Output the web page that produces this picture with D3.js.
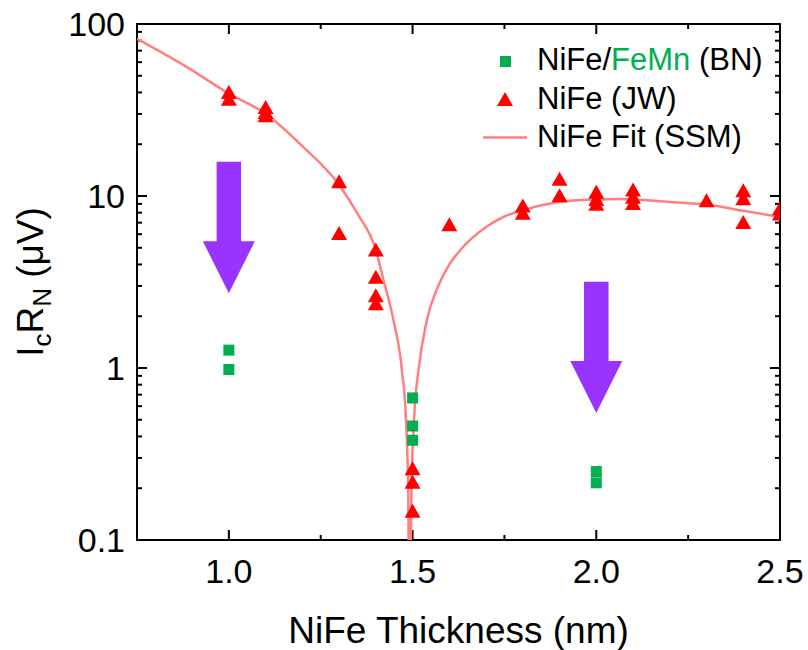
<!DOCTYPE html>
<html>
<head>
<meta charset="utf-8">
<script src="https://cdn.jsdelivr.net/npm/d3@7"></script>
<style>
  body { margin: 0; background: #fff; }
  text { font-family: Arial, "Liberation Sans", sans-serif; }
</style>
</head>
<body>
<div id="chart-area"></div>
<script>
// NiFe/FeMn (BN) squares
var bnX = [1.0, 1.0, 1.5, 1.5, 1.5, 2.0, 2.0];
var bnY = [1.27, 0.98, 0.67, 0.46, 0.38, 0.25, 0.215];

// NiFe (JW) triangles
var jwX = [1.0, 1.0, 1.1, 1.1, 1.1, 1.3, 1.3, 1.4, 1.4, 1.4, 1.4, 1.5, 1.5, 1.5, 1.6,
           1.8, 1.8, 1.9, 1.9, 2.0, 2.0, 2.0, 2.1, 2.1, 2.1, 2.3, 2.4, 2.4, 2.4, 2.5, 2.5];
var jwY = [40.2, 36.8, 32.9, 30.8, 29.5, 12.2, 6.1, 4.89, 3.39, 2.65, 2.38, 0.261, 0.218, 0.148, 6.86,
           8.8, 8.0, 12.6, 10.1, 10.6, 9.6, 9.0, 10.9, 9.9, 9.1, 9.45, 10.8, 9.7, 7.07, 8.5, 7.9];

// NiFe Fit (SSM)
var fitX = [0.75, 0.875, 1.0, 1.1, 1.2, 1.3, 1.35, 1.4, 1.421, 1.448, 1.471, 1.482, 1.488, 1.4915,
            1.4925, 1.497, 1.505, 1.516, 1.539, 1.57, 1.6, 1.63, 1.7, 1.75, 1.8, 1.9, 2.0, 2.06, 2.1, 2.2, 2.3, 2.4, 2.5];
var fitY = [82, 58, 39.4, 30.1, 19.5, 11.6, 7.9, 4.85, 3.24, 1.9, 0.97, 0.5, 0.2, 0.03,
            0.03, 0.2, 0.55, 0.97, 1.9, 3.0, 4.0, 4.85, 6.6, 7.6, 8.27, 9.23, 9.55, 9.62, 9.55, 9.23, 8.92, 8.2, 7.56];

// arrows: thickness, top of shaft, tip
var arrowX = [1.0, 2.0];
var arrowTop = [15.8, 3.17];
var arrowTip = [2.72, 0.547];

var xTicks = [1.0, 1.5, 2.0, 2.5];
var yTicks = [0.1, 1, 10, 100];
var yTickLabels = ['0.1', '1', '10', '100'];

var svgWidth = 808, svgHeight = 650;
var margin = {left:137, right:28, top:24, bottom:110};
var width = svgWidth - margin.left - margin.right;
var height = svgHeight - margin.top - margin.bottom;

var svg = d3.select('#chart-area')
            .append('svg')
            .attr('width', svgWidth)
            .attr('height', svgHeight);

var g = svg.append('g')
           .attr('transform', 'translate(' + margin.left + ',' + margin.top + ')');

var xScale = d3.scaleLinear().domain([0.75, 2.5]).range([0, width]);
var yScale = d3.scaleLog().domain([0.1, 100]).range([height, 0]);

g.append('clipPath').attr('id', 'clip')
 .append('rect').attr('width', width).attr('height', height);

// minor ticks
var xMinor = d3.range(0.75, 2.5001, 0.25).filter(function(d){ return Math.abs(d*2 - Math.round(d*2)) > 0.01; });
var yMinor = [];
[0.1, 1, 10].forEach(function(b){ for (var k = 2; k <= 9; k++) yMinor.push(b*k); });

var tickSize = 10, minorSize = 5;

function drawTicks(vals, len) {
  vals.forEach(function(v){
    g.append('line').attr('x1', xScale(v)).attr('x2', xScale(v))
      .attr('y1', height).attr('y2', height - len).attr('stroke', '#000').attr('stroke-width', 2);
    g.append('line').attr('x1', xScale(v)).attr('x2', xScale(v))
      .attr('y1', 0).attr('y2', len).attr('stroke', '#000').attr('stroke-width', 2);
  });
}
drawTicks(xTicks, tickSize);
drawTicks(xMinor, minorSize);

function drawYTicks(vals, len) {
  vals.forEach(function(v){
    g.append('line').attr('y1', yScale(v)).attr('y2', yScale(v))
      .attr('x1', 0).attr('x2', len).attr('stroke', '#000').attr('stroke-width', 2);
    g.append('line').attr('y1', yScale(v)).attr('y2', yScale(v))
      .attr('x1', width).attr('x2', width - len).attr('stroke', '#000').attr('stroke-width', 2);
  });
}
drawYTicks(yTicks, tickSize);
drawYTicks(yMinor, minorSize);

// frame
g.append('rect').attr('width', width).attr('height', height)
 .attr('fill', 'none').attr('stroke', '#000').attr('stroke-width', 2);

// tick labels
g.selectAll('.xl').data(xTicks).enter().append('text')
 .attr('x', function(d){ return xScale(d); })
 .attr('y', height + 43)
 .attr('text-anchor', 'middle')
 .attr('font-size', 34)
 .text(function(d){ return d.toFixed(1); });

g.selectAll('.yl').data(yTicks).enter().append('text')
 .attr('x', -12)
 .attr('y', function(d){ return yScale(d); })
 .attr('dy', '0.36em')
 .attr('text-anchor', 'end')
 .attr('font-size', 34)
 .text(function(d, i){ return yTickLabels[i]; });

// axis titles
g.append('text')
 .attr('x', width/2)
 .attr('y', svgHeight - margin.top - 7)
 .attr('text-anchor', 'middle')
 .attr('font-size', 37)
 .text('NiFe Thickness (nm)');

var yt = svg.append('text')
 .attr('transform', 'translate(43,' + (margin.top + height/2) + ') rotate(-90)')
 .attr('text-anchor', 'middle')
 .attr('font-size', 37);
yt.append('tspan').text('I');
yt.append('tspan').attr('font-size', 26).attr('dy', 8).text('c');
yt.append('tspan').attr('dy', -8).text('R');
yt.append('tspan').attr('font-size', 26).attr('dy', 8).text('N');
yt.append('tspan').attr('dy', -8).text(' (\u03bcV)');

// fit curve
var fitData = fitX.map(function(x, i){ return [x, fitY[i]]; });
var line = d3.line()
  .x(function(d){ return xScale(d[0]); })
  .y(function(d){ return yScale(d[1]); })
  .curve(d3.curveMonotoneX);

g.append('path')
 .datum(fitData)
 .attr('clip-path', 'url(#clip)')
 .attr('d', line)
 .attr('fill', 'none')
 .attr('stroke', '#ff7f7f')
 .attr('stroke-width', 2.5);

// arrows
var shaftW = 24.5, headW = 52, headH = 52;
arrowX.forEach(function(x, i){
  var cx = xScale(x), y0 = yScale(arrowTop[i]), y1 = yScale(arrowTip[i]), yb = y1 - headH;
  var pts = [[cx - shaftW/2, y0], [cx + shaftW/2, y0], [cx + shaftW/2, yb], [cx + headW/2, yb],
             [cx, y1], [cx - headW/2, yb], [cx - shaftW/2, yb]];
  g.append('path').attr('d', 'M' + pts.join('L') + 'Z').attr('fill', '#9933ff');
});

// triangles
var triW = 16, triH = 14;
function triPath(cx, cy) {
  return 'M' + (cx - triW/2) + ',' + (cy + triH/2) + 'L' + cx + ',' + (cy - triH/2) +
         'L' + (cx + triW/2) + ',' + (cy + triH/2) + 'Z';
}
g.selectAll('.tri').data(jwX).enter().append('path')
 .attr('clip-path', 'url(#clip)')
 .attr('d', function(d, i){ return triPath(xScale(d), yScale(jwY[i])); })
 .attr('fill', '#ff0000');

// squares
var sq = 11;
g.selectAll('.sq').data(bnX).enter().append('rect')
 .attr('x', function(d){ return xScale(d) - sq/2; })
 .attr('y', function(d, i){ return yScale(bnY[i]) - sq/2; })
 .attr('width', sq).attr('height', sq)
 .attr('fill', '#00b050');

// legend
var lg = svg.append('g');
lg.append('rect').attr('x', 500).attr('y', 56).attr('width', sq).attr('height', sq).attr('fill', '#00b050');
var t1 = lg.append('text').attr('x', 537).attr('y', 70).attr('font-size', 31);
t1.append('tspan').text('NiFe/');
t1.append('tspan').attr('fill', '#00b050').text('FeMn');
t1.append('tspan').text(' (BN)');

lg.append('path').attr('d', triPath(505, 99)).attr('fill', '#ff0000');
lg.append('text').attr('x', 537).attr('y', 108.5).attr('font-size', 31).text('NiFe (JW)');

lg.append('line').attr('x1', 483).attr('x2', 527).attr('y1', 137.5).attr('y2', 137.5)
  .attr('stroke', '#ff7f7f').attr('stroke-width', 2.5);
lg.append('text').attr('x', 537).attr('y', 147).attr('font-size', 31).text('NiFe Fit (SSM)');
</script>
</body>
</html>
